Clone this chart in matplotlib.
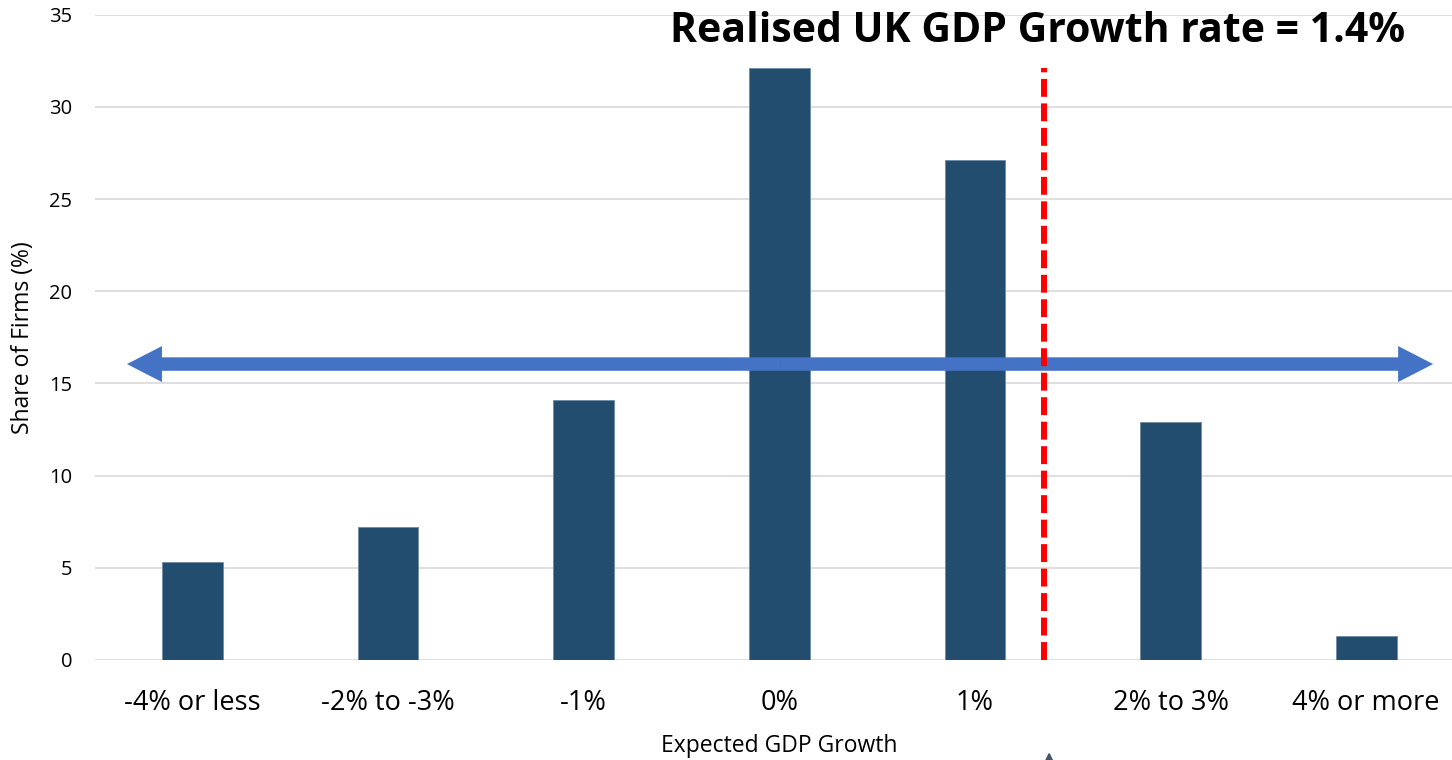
import matplotlib
matplotlib.use("Agg")
import matplotlib.pyplot as plt
import numpy as np

# Survey: expected GDP growth vs share of firms
categories = ['-4% or less', '-2% to -3%', '-1%', '0%', '1%', '2% to 3%', '4% or more']
share_of_firms = [5.3, 7.2, 14.1, 32.1, 27.1, 12.9, 1.3]

realised_growth = 1.4
realised_pos = 4.354     # where 1.4% falls on the category axis
realised_top = 32.1
range_level = 16.05      # height of the two-headed range arrow
range_ends = (-0.335, 6.342)

plt.rcParams['font.family'] = ['Open Sans', 'DejaVu Sans']

fig = plt.figure(figsize=(14.52, 7.6), dpi=100)
# plot area runs slightly past the right edge of the canvas
ax = fig.add_axes([0.0652, 0.1316, 0.9431, 0.8491])

x = np.arange(len(categories))
ax.bar(x, share_of_firms, width=0.31, color='#234D6E', edgecolor='#6f8aa3',
       linewidth=0.6, zorder=2)

ax.set_xlim(-0.5, 6.5)
ax.set_ylim(0, 35)
ax.set_yticks(range(0, 36, 5))
ax.set_xticks(x)
ax.set_xticklabels(categories, fontsize=19.5)
ax.tick_params(axis='y', labelsize=14.5, length=0, pad=16)
ax.tick_params(axis='x', length=0, pad=21)
ax.grid(axis='y', color='#D9D9D9', linewidth=1.2)
ax.set_axisbelow(True)
for s in ax.spines.values():
    s.set_visible(False)

ax.set_ylabel('Share of Firms (%)', fontsize=16.5, labelpad=10)
ax.set_xlabel('Expected GDP Growth', fontsize=16.5, labelpad=12)

# two-headed range arrow, drawn as two halves from the middle outwards
mid = (range_ends[0] + range_ends[1]) / 2
for end in range_ends:
    ax.arrow(mid, range_level, end - mid, 0, width=0.73, head_width=1.95,
             head_length=0.179, length_includes_head=True,
             color='#4472C4', linewidth=0, zorder=3)

# realised growth marker
ax.vlines(realised_pos, 0, realised_top, colors='#FF0000', linewidth=4.3,
          linestyles=(0, (3, 1.1)), zorder=4)

# pointer coming up from below the axis
ax.annotate('', xy=(realised_pos + 0.025, -4.85), xytext=(realised_pos + 0.025, -7.5),
            arrowprops=dict(arrowstyle='-|>', color='#44546A', lw=1.5,
                            mutation_scale=14),
            annotation_clip=False)

fig.text(1038 / 1452, 1 - 31 / 760, f'Realised UK GDP Growth rate = {realised_growth}%',
         fontsize=29.5, fontweight='bold', ha='center', va='center')

fig.savefig('out.png', dpi=100)
